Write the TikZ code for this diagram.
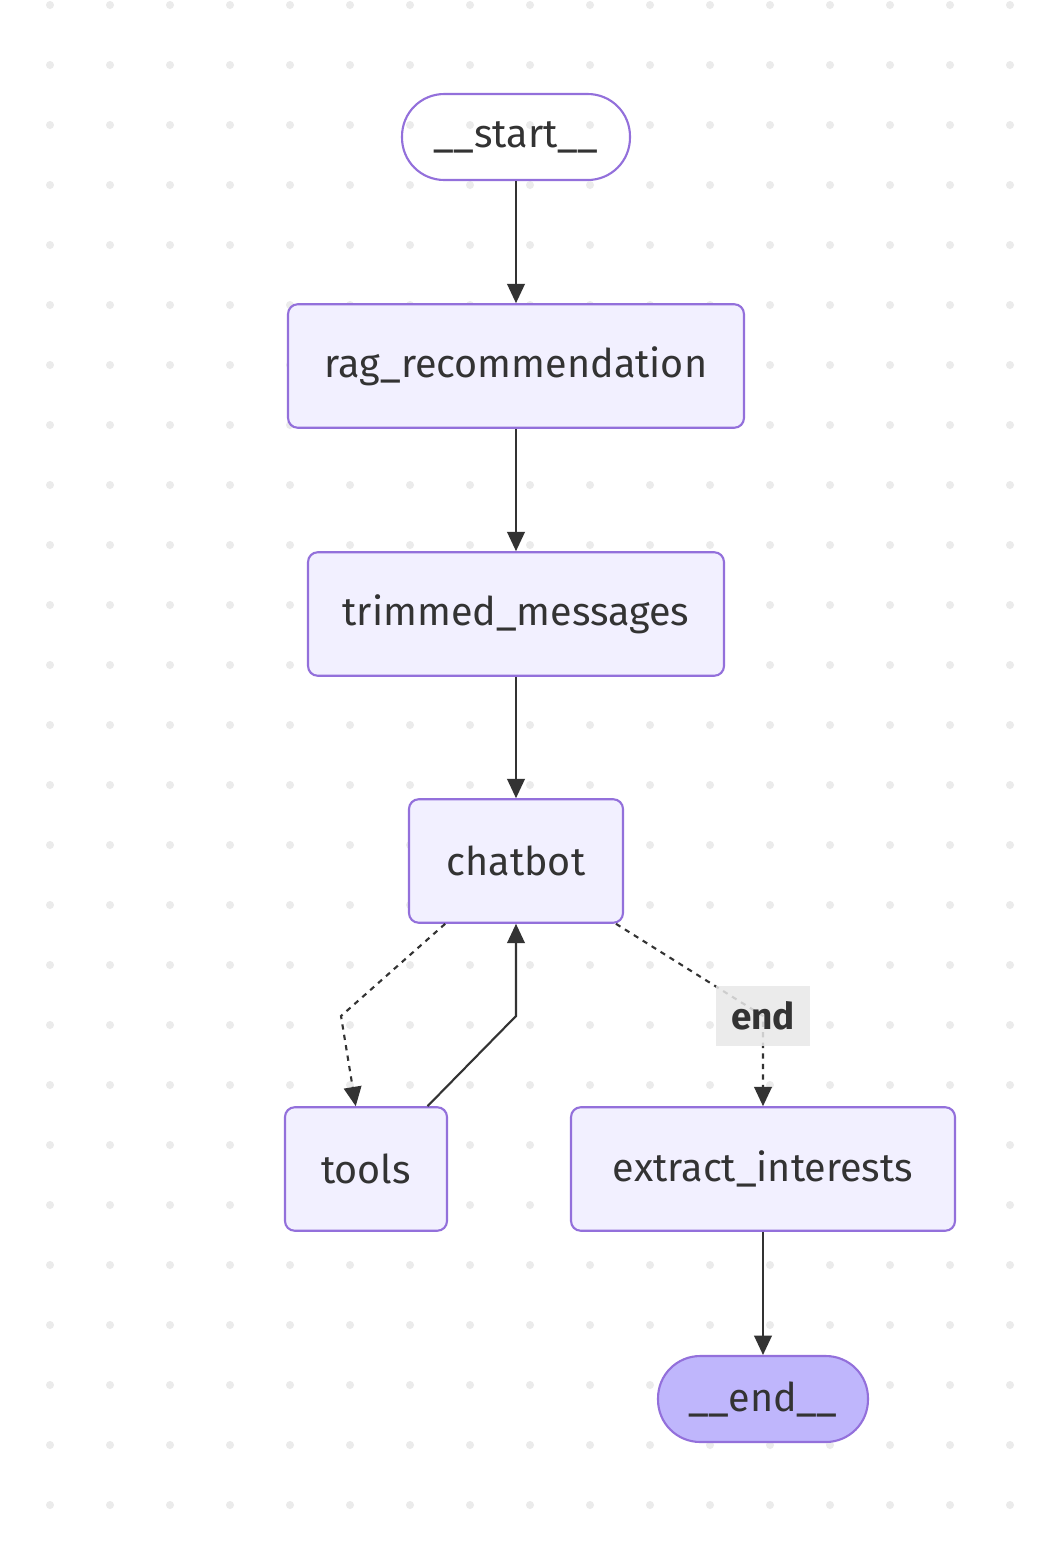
\documentclass[tikz,border=0pt]{standalone}
\usepackage{fontspec}
\setmainfont{Fira Sans}
\usetikzlibrary{arrows.meta}

\definecolor{nodefill}{HTML}{F2F0FF}
\definecolor{nodeline}{HTML}{9370DB}
\definecolor{endfill}{HTML}{BFB6FC}
\definecolor{edgecol}{HTML}{333333}
\definecolor{dotcol}{HTML}{EBEBEB}
\definecolor{labelfill}{HTML}{E8E8E8}

\tikzset{
    box/.style={draw=nodeline, fill=nodefill, line width=1.2pt, rounded corners=5.5pt,
        minimum height=2.47cm, inner sep=0pt, text=edgecol, font=\fontsize{22.5}{27}\selectfont},
    pill/.style={box, rounded corners=24pt, minimum height=1.72cm},
    edge/.style={draw=edgecol, line width=1.2pt, -{Triangle[length=11pt,width=10pt]}},
    dashedge/.style={edge, dash pattern=on 3pt off 3pt},
    edgelabel/.style={fill=labelfill, fill opacity=0.85, text opacity=1, text=edgecol,
        minimum width=1.88cm, minimum height=1.2cm, inner sep=0pt,
        font=\fontsize{21}{25}\selectfont\bfseries}
}

\begin{document}
\begin{tikzpicture}[x=0.02cm, y=-0.02cm]
    \useasboundingbox (0,0) rectangle (1052,1553);
    \fill[white] (0,0) rectangle (1052,1553);
    % dotted background
    \foreach \x in {50,110,...,1010}
        \foreach \y in {5,65,...,1505}
            \fill[dotcol] (\x,\y) circle (0.08cm);

    \node[pill, fill=none, minimum width=4.56cm] (start) at (516,137) {\_\_start\_\_};
    \node[box, minimum width=9.12cm] (rag) at (516,366) {rag\_recommendation};
    \node[box, minimum width=8.32cm] (trimmed) at (516,614) {trimmed\_messages};
    \node[box, minimum width=4.28cm] (chatbot) at (516,861) {chatbot};
    \node[box, minimum width=3.24cm] (tools) at (366,1169) {tools};
    \node[box, minimum width=7.68cm] (extract) at (763,1169) {extract\_interests};
    \node[pill, fill=endfill, minimum width=4.2cm] (end) at (763,1399) {\_\_end\_\_};

    \coordinate (b1) at (341,1016);
    \coordinate (b2) at (516,1016);
    \coordinate (b3) at (763,1016);

    \draw[edge] (start) -- (rag);
    \draw[edge] (rag) -- (trimmed);
    \draw[edge] (trimmed) -- (chatbot);
    \draw[dashedge] (chatbot) -- (b1) -- (tools);
    \draw[edge] (tools) -- (b2) -- (chatbot);
    \draw[dashedge] (chatbot) -- (b3) node[edgelabel] (endlabel) {end} -- (extract);
    \draw[edge] (extract) -- (end);
\end{tikzpicture}
\end{document}
